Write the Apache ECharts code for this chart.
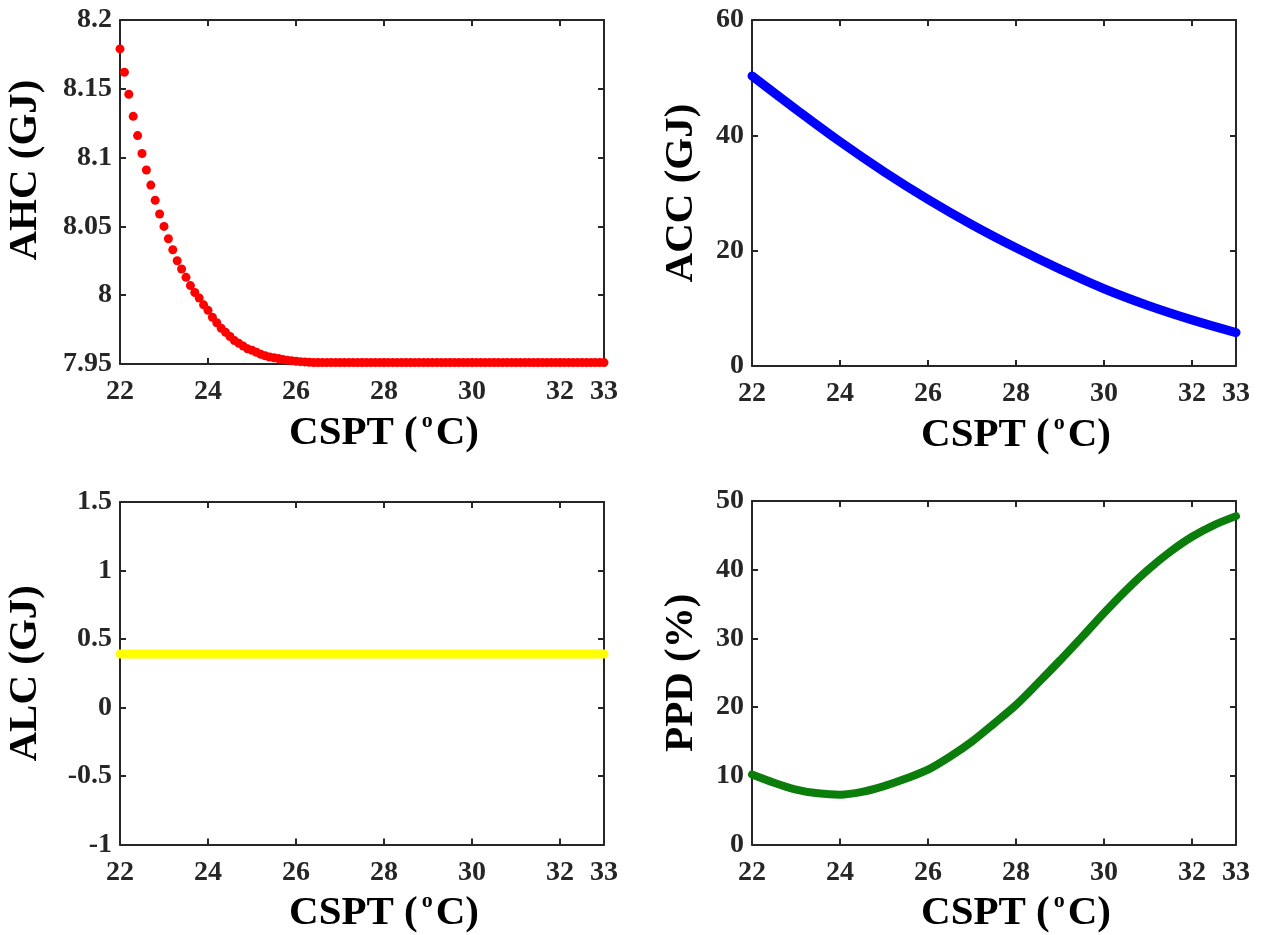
<!DOCTYPE html>
<html>
<head>
<meta charset="utf-8">
<script src="https://cdn.jsdelivr.net/npm/echarts@6/dist/echarts.min.js"></script>
<style>html,body{margin:0;padding:0;background:#fff}#c{width:1265px;height:935px}</style>
</head>
<body>
<div id="c"></div>
<script>
// ---- data ----
const csptFine = [22.0,22.1,22.2,22.3,22.4,22.5,22.6,22.7,22.8,22.9,
  23.0,23.1,23.2,23.3,23.4,23.5,23.6,23.7,23.8,23.9,
  24.0,24.1,24.2,24.3,24.4,24.5,24.6,24.7,24.8,24.9,
  25.0,25.1,25.2,25.3,25.4,25.5,25.6,25.7,25.8,25.9,
  26.0,26.1,26.2,26.3,26.4,26.5,26.6,26.7,26.8,26.9,
  27.0,27.1,27.2,27.3,27.4,27.5,27.6,27.7,27.8,27.9,
  28.0,28.1,28.2,28.3,28.4,28.5,28.6,28.7,28.8,28.9,
  29.0,29.1,29.2,29.3,29.4,29.5,29.6,29.7,29.8,29.9,
  30.0,30.1,30.2,30.3,30.4,30.5,30.6,30.7,30.8,30.9,
  31.0,31.1,31.2,31.3,31.4,31.5,31.6,31.7,31.8,31.9,
  32.0,32.1,32.2,32.3,32.4,32.5,32.6,32.7,32.8,32.9,33.0];
const ahc = [8.179,8.162,8.146,8.130,8.116,8.103,8.091,8.080,8.069,8.059,
  8.050,8.041,8.033,8.025,8.019,8.013,8.007,8.002,7.998,7.993,
  7.989,7.984,7.980,7.976,7.973,7.970,7.967,7.965,7.963,7.961,
  7.960,7.9585,7.957,7.956,7.955,7.9545,7.954,7.9533,7.9528,7.9523,
  7.952,7.9517,7.9515,7.9513,7.9511,7.951,7.951,7.951,7.951,7.951,
  7.951,7.951,7.951,7.951,7.951,7.951,7.951,7.951,7.951,7.951,
  7.951,7.951,7.951,7.951,7.951,7.951,7.951,7.951,7.951,7.951,
  7.951,7.951,7.951,7.951,7.951,7.951,7.951,7.951,7.951,7.951,
  7.951,7.951,7.951,7.951,7.951,7.951,7.951,7.951,7.951,7.951,
  7.951,7.951,7.951,7.951,7.951,7.951,7.951,7.951,7.951,7.951,
  7.951,7.951,7.951,7.951,7.951,7.951,7.951,7.951,7.951,7.951,7.951];
const csptInt = [22,23,24,25,26,27,28,29,30,31,32,33];
const acc = [50.3,44.5,38.9,33.7,28.9,24.5,20.5,16.8,13.4,10.5,8.0,5.8];
const alc = [0.39,0.39,0.39,0.39,0.39,0.39,0.39,0.39,0.39,0.39,0.39,0.39];
const csptHalf = [22,22.5,23,23.5,24,24.5,25,25.5,26,26.5,27,27.5,28,28.5,29,29.5,30,30.5,31,31.5,32,32.5,33];
const ppd = [10.2,9.0,8.0,7.45,7.25,7.65,8.5,9.6,10.9,12.8,15.0,17.6,20.3,23.5,26.8,30.2,33.7,37.0,40.0,42.6,44.8,46.5,47.8];

const yTitles = ['AHC (GJ)','ACC (GJ)','ALC (GJ)','PPD (%)'];
const yRanges = [[7.95,8.2,0.05],[0,60,20],[-1,1.5,0.5],[0,50,10]];
const xRange = [22,33,2];

// ---- styling ----
const FONT = "'Liberation Serif','Times New Roman',serif";
const AXC = '#262626';
const grids = [
  {left:120, top:20, width:484, height:344},
  {left:752, top:20, width:484, height:346},
  {left:120, top:502, width:484, height:346},
  {left:752, top:501, width:484, height:346}
];
const yNameGap = [74, 50, 74, 50];
const yNamePad = [[0,0,0,44],[0,0,0,0],[0,0,0,0],[0,0,0,0]];

const xAxes = [], yAxes = [];
grids.forEach((g, i) => {
  const base = {
    type:'value', gridIndex:i, min:xRange[0], max:xRange[1], interval:xRange[2],
    splitLine:{show:false},
    axisLine:{show:true, onZero:false, lineStyle:{color:AXC, width:2}},
    axisTick:{show:true, inside:true, length:6, lineStyle:{color:AXC, width:2}}
  };
  xAxes.push(Object.assign({}, base, {
    position:'bottom',
    axisLabel:{show:true, margin:14, color:AXC, fontFamily:FONT, fontWeight:'bold', fontSize:28,
      showMaxLabel:true, showMinLabel:true, hideOverlap:false},
    name:'{a|CSPT (}{s|o}{a|C)}', nameLocation:'middle', nameGap:46,
    nameTextStyle:{padding:[0,0,0,44], rich:{
      a:{fontFamily:FONT, fontWeight:'bold', fontSize:41, color:'#000', lineHeight:46},
      s:{fontFamily:FONT, fontWeight:'bold', fontSize:22, color:'#000', verticalAlign:'top', lineHeight:34, padding:[0,3,0,4]}
    }}
  }));
  xAxes.push(Object.assign({}, base, {position:'top', axisLabel:{show:false}}));
  const yr = yRanges[i];
  const ybase = {
    type:'value', gridIndex:i, min:yr[0], max:yr[1], interval:yr[2],
    splitLine:{show:false},
    axisLine:{show:true, onZero:false, lineStyle:{color:AXC, width:2}},
    axisTick:{show:true, inside:true, length:6, lineStyle:{color:AXC, width:2}}
  };
  yAxes.push(Object.assign({}, ybase, {
    position:'left',
    axisLabel:{show:true, margin:8, color:AXC, fontFamily:FONT, fontWeight:'bold', fontSize:28,
      formatter: v => String(+v.toFixed(2))},
    name:yTitles[i], nameLocation:'middle', nameGap:yNameGap[i],
    nameTextStyle:{fontFamily:FONT, fontWeight:'bold', fontSize:41, color:'#000', padding:yNamePad[i]}
  }));
  yAxes.push(Object.assign({}, ybase, {position:'right', axisLabel:{show:false}}));
});

const zip = (xs, ys) => xs.map((x, k) => [x, ys[k]]);

const option = {
  animation:false,
  backgroundColor:'#fff',
  grid: grids,
  xAxis: xAxes,
  yAxis: yAxes,
  series: [
    {type:'scatter', xAxisIndex:0, yAxisIndex:0, data:zip(csptFine, ahc),
      symbol:'circle', symbolSize:9, itemStyle:{color:'#ff0000', opacity:1}, clip:false},
    {type:'line', xAxisIndex:2, yAxisIndex:2, data:zip(csptInt, acc), smooth:0.4,
      showSymbol:false, clip:false, lineStyle:{color:'#0000ff', width:9, cap:'round'}},
    {type:'line', xAxisIndex:4, yAxisIndex:4, data:zip(csptInt, alc),
      showSymbol:false, clip:false, lineStyle:{color:'#ffff00', width:9, cap:'round'}},
    {type:'line', xAxisIndex:6, yAxisIndex:6, data:zip(csptHalf, ppd), smooth:0.3,
      showSymbol:false, clip:false, lineStyle:{color:'#0a7d0a', width:8, cap:'round'}}
  ]
};
echarts.init(document.getElementById('c')).setOption(option);
</script>
</body>
</html>
